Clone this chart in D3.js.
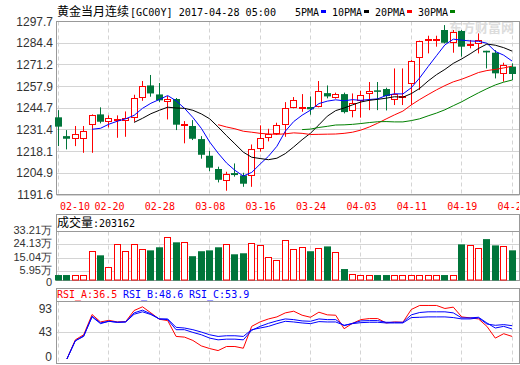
<!DOCTYPE html>
<meta charset="utf-8">
<html>
<head>
<style>
    body { margin: 0; background: #fff; }
    text.axis { font-family: "Liberation Sans", Arial, sans-serif; font-size: 12px; fill: #333; }
    text.vaxis { font-family: "Liberation Sans", Arial, sans-serif; font-size: 11px; fill: #333; }
    text.mono { font-family: "DejaVu Sans Mono", monospace; font-size: 10px; }
    text.cjk { font-family: "Noto Sans CJK SC", sans-serif; font-size: 12px; }
</style>
<title>黄金当月连续</title>
<script src="https://cdnjs.cloudflare.com/ajax/libs/d3/7.8.5/d3.min.js"></script>
</head>
<body>
<div id="chart"></div>
<script>
// ---- data ----
const tickIndex = [0, 6, 12, 18, 24, 30, 36, 42, 48, 54];
const tickLabels = ["02-10", "02-20", "02-28", "03-08", "03-16", "03-24", "04-03", "04-11", "04-19", "04-27"];
const priceTicks = [1297.7, 1284.4, 1271.2, 1257.9, 1244.7, 1231.4, 1218.1, 1204.9, 1191.6];
const volTicks = [332100, 241300, 150400, 59500, 0];
const volTickLabels = ["33.21万", "24.13万", "15.04万", "5.95万", "0"];
const rsiTicks = [93, 43, 0];

const open = [1239.1,1227.6,1226.2,1226.0,1234.8,1240.9,1236.6,1237.0,1237.4,1239.1,
    1251.3,1258.6,1253.1,1248.8,1250.3,1234.4,1233.8,1225.8,1215.6,1207.5,
    1200.5,1205.0,1203.6,1203.6,1220.3,1226.8,1229.3,1235.0,1245.2,1244.8,
    1245.4,1246.0,1253.9,1251.3,1253.3,1243.1,1249.1,1253.9,1255.6,1256.4,
    1250.1,1251.3,1259.9,1275.8,1286.0,1286.2,1292.5,1284.7,1291.9,1283.3,
    1284.3,1279.8,1278.6,1266.0,1270.1];
const high = [1243.5,1231.3,1233.8,1233.8,1240.9,1245.2,1240.3,1240.3,1242.7,1252.9,
    1261.3,1265.0,1260.1,1252.1,1250.9,1236.8,1237.4,1227.6,1218.5,1208.9,
    1205.8,1210.9,1205.2,1222.5,1234.2,1232.1,1235.8,1248.4,1251.5,1253.3,
    1251.9,1261.3,1258.6,1254.2,1254.2,1253.7,1255.4,1260.7,1260.7,1257.2,
    1269.0,1269.0,1274.1,1286.0,1289.0,1289.0,1295.5,1292.5,1292.5,1286.4,
    1290.4,1279.8,1280.2,1272.5,1272.1];
const low = [1221.5,1219.5,1221.5,1217.4,1217.4,1235.4,1232.9,1226.6,1227.2,1236.4,
    1249.2,1251.7,1248.4,1237.8,1231.3,1223.2,1225.2,1213.8,1206.2,1199.3,
    1194.2,1202.8,1196.6,1196.6,1218.1,1224.4,1228.3,1227.2,1244.6,1242.5,
    1240.7,1245.2,1250.7,1250.5,1241.5,1239.1,1238.9,1243.5,1243.5,1243.3,
    1246.6,1246.6,1246.6,1255.8,1278.2,1282.3,1284.3,1278.6,1276.2,1281.3,
    1278.2,1269.0,1262.9,1260.9,1261.9];
const close = [1233.4,1226.0,1228.7,1230.5,1240.3,1236.4,1238.4,1237.8,1238.2,1250.7,
    1258.0,1253.7,1249.5,1250.3,1234.6,1234.8,1226.0,1216.2,1208.3,1200.9,
    1204.4,1203.8,1198.5,1219.5,1226.2,1228.5,1234.2,1244.6,1249.1,1245.4,
    1244.0,1254.6,1251.9,1253.1,1242.3,1247.6,1252.5,1254.6,1255.2,1252.1,
    1253.3,1251.7,1273.5,1285.5,1286.6,1286.8,1284.7,1291.1,1282.3,1283.9,
    1286.0,1278.8,1266.0,1270.9,1265.6];
const volume = [34000,34000,32000,32000,192000,169000,86000,242000,194000,242000,
    208000,203000,224000,289000,258000,260000,163000,197000,203000,224000,
    242000,176000,183000,249000,237000,156000,136000,271000,210000,224000,
    197000,217000,230000,190000,75000,41000,34000,34000,34000,34000,
    34000,34000,34000,34000,34000,34000,34000,34000,244000,237000,
    217000,280000,237000,230000,203162];

const ma5 = [null,null,null,null,1231.8,1232.4,1234.9,1236.7,1238.2,1240.3,
    1244.6,1247.7,1250.0,1252.4,1249.2,1244.6,1239.0,1232.4,1224.0,1217.2,
    1211.2,1206.7,1203.2,1205.4,1210.5,1215.3,1221.4,1230.6,1236.5,1240.4,
    1243.5,1247.5,1249.0,1249.8,1249.2,1249.9,1249.5,1250.0,1250.4,1252.4,
    1253.5,1253.4,1257.2,1263.2,1270.1,1276.8,1283.4,1286.9,1286.3,1285.8,
    1285.6,1284.4,1279.4,1277.1,1273.5];
const ma10 = [null,null,null,null,null,null,null,null,null,1236.0,
    1238.5,1241.3,1243.4,1245.3,1244.8,1244.6,1243.4,1241.2,1238.2,1233.2,
    1227.9,1222.9,1217.8,1214.7,1213.9,1213.2,1214.1,1216.9,1221.0,1225.4,
    1229.4,1234.5,1239.8,1243.2,1244.8,1246.7,1248.5,1249.5,1250.1,1250.8,
    1251.7,1251.4,1253.6,1256.8,1261.3,1265.2,1268.4,1272.1,1274.8,1277.9,
    1281.2,1283.9,1283.2,1281.7,1279.6];
const ma20 = [null,null,null,null,null,null,null,null,null,null,
    null,null,null,null,null,null,null,null,null,1234.6,
    1233.2,1232.1,1230.6,1230.0,1229.3,1228.9,1228.7,1229.0,1229.6,1229.3,
    1228.6,1228.7,1228.8,1228.9,1229.3,1230.0,1231.3,1233.2,1235.5,1238.1,
    1240.6,1242.9,1246.7,1250.0,1253.0,1255.9,1258.5,1260.8,1262.4,1264.4,
    1266.5,1267.7,1268.4,1269.3,1270.4];
const ma30 = [null,null,null,null,null,null,null,null,null,null,
    null,null,null,null,null,null,null,null,null,null,
    null,null,null,null,null,null,null,null,null,1231.6,
    1231.9,1232.9,1233.6,1234.4,1234.5,1234.8,1235.3,1235.9,1236.4,1236.5,
    1236.3,1236.3,1237.1,1238.2,1240.0,1241.7,1243.7,1246.2,1248.6,1251.4,
    1254.1,1256.6,1258.9,1260.6,1261.9];

const rsiA = [null,0,31.0,39.2,71.9,59.9,62.6,59.9,60.5,78.4,
    84.4,74.6,64.3,62.1,36.5,35.4,30.0,21.2,16.9,13.6,
    20.2,20.2,17.4,52.8,60.0,64.8,68.1,74.6,77.3,70.8,
    67.5,75.7,71.4,70.8,49.0,57.7,63.7,65.4,65.4,58.3,
    59.9,59.4,80.1,86.6,86.6,86.6,81.7,83.9,68.1,66.5,
    64.8,52.8,33.8,40.9,36.5];
const rsiB = [null,0,29.4,36.5,69.2,58.3,61.0,59.4,59.9,74.6,
    79.0,73.0,64.8,63.7,47.4,47.4,43.0,39.2,33.8,31.0,
    32.1,32.1,31.0,46.3,52.8,57.7,61.6,64.8,63.7,61.6,
    61.0,64.8,63.7,63.7,53.9,57.7,61.6,62.1,62.1,59.4,
    59.4,59.4,71.4,75.2,76.3,76.3,76.3,74.6,66.5,66.5,
    67.5,58.3,50.1,52.8,48.6];
const rsiC = [null,0,29.4,37.6,68.1,57.2,61.0,59.4,59.9,72.4,
    76.3,71.9,64.8,64.8,51.2,50.1,47.4,43.6,39.2,36.5,
    37.6,37.6,36.5,47.4,50.1,52.8,57.2,61.0,59.9,58.3,
    57.2,60.5,59.9,59.9,54.5,57.2,58.8,59.4,59.4,58.3,
    58.3,58.3,67.0,67.5,68.1,68.1,68.1,67.0,64.8,64.8,
    66.5,56.6,54.5,55.6,53.9];

const maNames = ["5PMA", "10PMA", "20PMA", "30PMA"];
const maColors = ["#0000ff", "#000000", "#ff0000", "#008000"];
const maSeries = [ma5, ma10, ma20, ma30];

// ---- layout ----
const W = 520, H = 365;
const left = 56.5, right = 519.5;
const main = {top: 21.5, bottom: 194.5};
const vol = {box: 214.5, top: 231.5, bottom: 280.5};
const rsi = {box: 288.5, top: 301.5, bottom: 363.5};
const up = "#ff0000", down = "#00753a", gridC = "#d4d4d4", borderC = "#999";

const svg = d3.select("#chart").append("svg")
    .attr("width", W).attr("height", H)
    .style("display", "block");

const x = d3.scaleLinear().domain([0, 54]).range([58.5, 512.1]);
const cx = i => Math.floor(x(i)) + 0.5;
const y = d3.scaleLinear().domain([1191.6, 1297.7]).range([195, 21.5]);
const yv = d3.scaleLinear().domain([0, 332100]).range([280, 231.5]);
const yr = d3.scaleLinear().domain([0, 93]).range([359, 301.5]);
const crisp = v => Math.round(v - 0.5) + 0.5;
const idx = d3.range(open.length);

// ---- header ----
svg.append("text").attr("class", "cjk").attr("x", 57).attr("y", 16).text("黄金当月连续");
svg.append("text").attr("class", "mono").attr("x", 130).attr("y", 16)
    .attr("textLength", 146).attr("lengthAdjust", "spacingAndGlyphs")
    .text("[GC00Y] 2017-04-28 05:00");

let lx = 295;
maNames.forEach((name, k) => {
    svg.append("text").attr("class", "mono").attr("x", lx).attr("y", 16)
        .text(name);
    svg.append("rect").attr("x", lx + name.length * 6 + 2).attr("y", 10)
        .attr("width", 5).attr("height", 3).attr("fill", maColors[k]);
    lx += name.length * 6 + 13;
});

// watermark
svg.append("text").attr("x", 449).attr("y", 32)
    .style("font-family", "Noto Sans CJK SC").style("font-size", "13px").style("font-weight", "bold")
    .attr("fill", "#dcdcdc").text("东方财富网");
svg.append("text").attr("x", 456).attr("y", 44)
    .style("font-family", "Liberation Sans").style("font-size", "7px")
    .attr("fill", "#e6e6e6").text("eastmoney.com");

// ---- grids and frames ----
function vDashes(top, bottom) {
    svg.append("g").selectAll("line").data(tickIndex).join("line")
        .attr("x1", d => cx(d)).attr("x2", d => cx(d))
        .attr("y1", top).attr("y2", bottom)
        .attr("stroke", gridC).attr("stroke-dasharray", "4,3");
}
function hLine(yy, color) {
    svg.append("line").attr("x1", left).attr("x2", right)
        .attr("y1", yy).attr("y2", yy).attr("stroke", color);
}
function frame(top, bottom) {
    svg.append("rect").attr("x", left).attr("y", top)
        .attr("width", right - left).attr("height", bottom - top)
        .attr("fill", "none").attr("stroke", borderC);
}

// main panel
svg.append("g").selectAll("line").data(priceTicks).join("line")
    .attr("x1", left).attr("x2", right)
    .attr("y1", d => crisp(y(d))).attr("y2", d => crisp(y(d)))
    .attr("stroke", gridC);
vDashes(main.top, main.bottom);
frame(main.top, main.bottom);
svg.append("g").selectAll("text").data(priceTicks).join("text")
    .attr("class", "axis").attr("x", 53).attr("y", d => y(d) + 4)
    .attr("text-anchor", "end").text(d => d.toFixed(1));

// volume panel
volTicks.slice(1, 4).forEach(v => hLine(crisp(yv(v)), gridC));
vDashes(vol.top, vol.bottom);
frame(vol.box, vol.bottom);
hLine(vol.top, borderC);
svg.append("g").selectAll("text").data(volTicks).join("text")
    .attr("class", "vaxis").attr("x", 52)
    .attr("y", d => d === 0 ? yv(d) + 6 : yv(d) + 2.5)
    .attr("text-anchor", "end").text((d, i) => volTickLabels[i]);
svg.append("text").attr("class", "cjk").attr("x", 57).attr("y", 227).text("成交量");
svg.append("text").attr("class", "mono").attr("x", 93).attr("y", 227)
    .text(":" + volume[volume.length - 1]);

// rsi panel
hLine(crisp(yr(43)), gridC);
vDashes(rsi.top, rsi.bottom);
frame(rsi.box, rsi.bottom);
hLine(rsi.top, borderC);
svg.append("g").selectAll("text").data(rsiTicks).join("text")
    .attr("class", "axis").attr("x", 52)
    .attr("y", d => Math.max(rsi.top + 7, Math.min(rsi.bottom - 7, yr(d))) + 4)
    .attr("text-anchor", "end").text(d => d);
const rsiNames = ["RSI_A", "RSI_B", "RSI_C"];
const rsiColors = ["#ff0000", "#0000ff", "#0000ff"];
const rsiSeries = [rsiA, rsiB, rsiC];
rsiNames.forEach((n, k) => {
    const s = rsiSeries[k];
    svg.append("text").attr("class", "mono").attr("x", 57 + k * 66).attr("y", 298)
        .attr("fill", rsiColors[k]).text(n + ":" + s[s.length - 1].toFixed(1));
});

// x tick labels (clipped at the right border, as in the original)
svg.append("clipPath").attr("id", "xclip").append("rect")
    .attr("x", 0).attr("y", 195).attr("width", 519).attr("height", 20);
svg.append("g").attr("clip-path", "url(#xclip)")
    .selectAll("text").data(tickIndex).join("text")
    .attr("class", "mono").attr("fill", "#ff0000")
    .attr("x", d => Math.max(60, x(d) - 14.5)).attr("y", 210)
    .text((d, i) => tickLabels[i]);

// ---- candles ----
const isUp = i => close[i] >= open[i];
const candles = svg.append("g").selectAll("g").data(idx).join("g");
candles.append("line")
    .attr("x1", i => cx(i)).attr("x2", i => cx(i))
    .attr("y1", i => y(high[i])).attr("y2", i => y(low[i]))
    .attr("stroke", i => isUp(i) ? up : down);
candles.append("rect")
    .attr("x", i => isUp(i) ? cx(i) - 3 : cx(i) - 3.5)
    .attr("width", i => isUp(i) ? 6 : 7)
    .attr("y", i => isUp(i) ? crisp(y(close[i])) : y(open[i]))
    .attr("height", i => isUp(i)
        ? Math.max(1, crisp(y(open[i])) - crisp(y(close[i])))
        : Math.max(1.5, y(close[i]) - y(open[i])))
    .attr("fill", i => isUp(i) ? "#fff" : down)
    .attr("stroke", i => isUp(i) ? up : "none");

// moving averages
const maLine = d3.line().defined(d => d[1] != null).x(d => x(d[0])).y(d => y(d[1]));
maSeries.forEach((s, k) => {
    svg.append("path").datum(s.map((v, i) => [i, v]))
        .attr("d", maLine).attr("fill", "none")
        .attr("stroke", maColors[k]).attr("stroke-width", 1);
});

// ---- volume bars ----
svg.append("g").selectAll("rect").data(idx).join("rect")
    .attr("x", i => isUp(i) ? cx(i) - 3 : cx(i) - 3.5)
    .attr("width", i => isUp(i) ? 6 : 7)
    .attr("y", i => isUp(i) ? crisp(yv(volume[i])) : yv(volume[i]))
    .attr("height", i => isUp(i) ? 280 - crisp(yv(volume[i])) : 280.5 - yv(volume[i]))
    .attr("fill", i => isUp(i) ? "#fff" : down)
    .attr("stroke", i => isUp(i) ? up : "none");

// ---- rsi lines ----
const rsiLine = d3.line().defined(d => d[1] != null).x(d => x(d[0])).y(d => yr(d[1]));
rsiSeries.forEach((s, k) => {
    svg.append("path").datum(s.map((v, i) => [i, v]))
        .attr("d", rsiLine).attr("fill", "none")
        .attr("stroke", rsiColors[k]).attr("stroke-width", 1);
});
</script>
</body>
</html>
